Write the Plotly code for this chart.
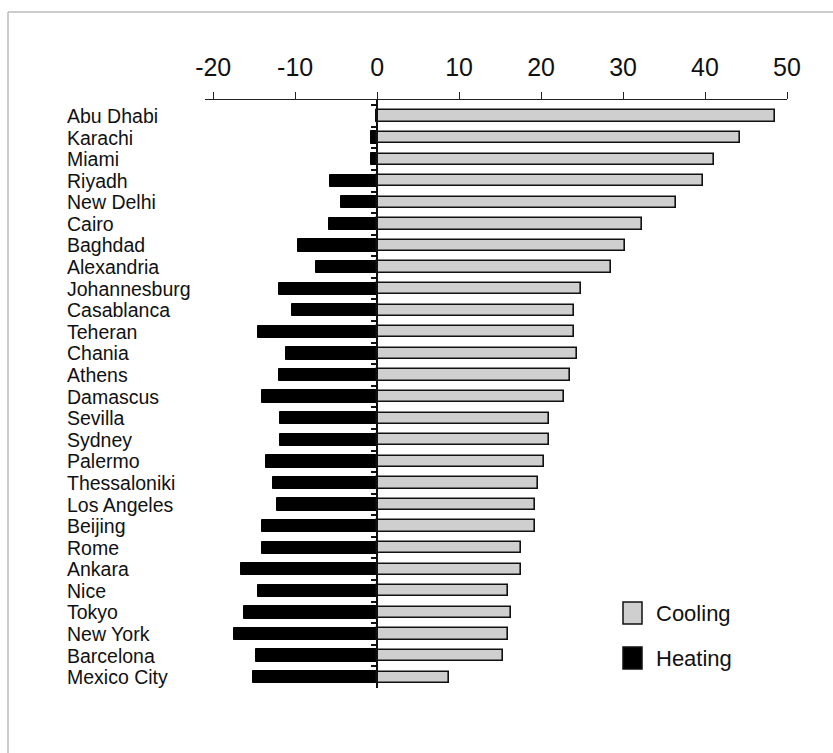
import plotly.graph_objects as go

# Cities, top to bottom
cities = [
    "Abu Dhabi", "Karachi", "Miami", "Riyadh", "New Delhi", "Cairo", "Baghdad",
    "Alexandria", "Johannesburg", "Casablanca", "Teheran", "Chania", "Athens",
    "Damascus", "Sevilla", "Sydney", "Palermo", "Thessaloniki", "Los Angeles",
    "Beijing", "Rome", "Ankara", "Nice", "Tokyo", "New York", "Barcelona",
    "Mexico City",
]

# Cooling (positive) and heating (negative) values
cooling = [
    48.5, 44.3, 41.1, 39.7, 36.4, 32.3, 30.2,
    28.5, 24.9, 24.0, 24.0, 24.4, 23.5,
    22.8, 21.0, 21.0, 20.3, 19.6, 19.2,
    19.2, 17.6, 17.6, 16.0, 16.3, 16.0, 15.4,
    8.8,
]
heating = [
    -0.2, -0.7, -0.7, -5.7, -4.4, -5.9, -9.7,
    -7.5, -12.0, -10.4, -14.5, -11.1, -12.0,
    -14.1, -11.8, -11.8, -13.6, -12.7, -12.2,
    -14.1, -14.1, -16.6, -14.5, -16.3, -17.5, -14.8,
    -15.2,
]

x_ticks = [-20, -10, 0, 10, 20, 30, 40, 50]
x_range = [-21, 50]

W, H = 833, 753
L, R, T, B = 205, 46, 100, 65
PW, PH = W - L - R, H - T - B


def px_x(px):
    return (px - L) / PW


def px_y(py):
    return (H - B - py) / PH


FONT = "Liberation Sans, Arial, sans-serif"
COOL_FILL = "#cfcfcf"

fig = go.Figure()
fig.add_trace(go.Bar(
    y=cities, x=heating, orientation="h", name="Heating",
    marker=dict(color="#000000", line=dict(color="#000000", width=1)),
    width=0.57,
))
fig.add_trace(go.Bar(
    y=cities, x=cooling, orientation="h", name="Cooling",
    marker=dict(color=COOL_FILL, line=dict(color="#111111", width=1.6)),
    width=0.52,
))

# City names, left-aligned
for c in cities:
    fig.add_annotation(
        x=px_x(65), xref="paper", y=c, yref="y", text=c, showarrow=False,
        xanchor="left", yanchor="middle",
        font=dict(family=FONT, size=19.5, color="#111111"),
    )

# Legend boxes and labels
legend_items = [("Cooling", COOL_FILL, 602, 624), ("Heating", "#000000", 647, 669)]
for label, fill, y0, y1 in legend_items:
    fig.add_shape(
        type="rect", xref="paper", yref="paper",
        x0=px_x(623), x1=px_x(642), y0=px_y(y1), y1=px_y(y0),
        fillcolor=fill, line=dict(color="#111111", width=1.5),
    )
    fig.add_annotation(
        x=px_x(654), xref="paper", y=px_y((y0 + y1) / 2), yref="paper",
        text=label, showarrow=False, xanchor="left", yanchor="middle",
        font=dict(family=FONT, size=22, color="#111111"),
    )

# Thin frame along the top and left edges
frame = dict(color="#bdbdbd", width=1.5)
fig.add_shape(type="line", xref="paper", yref="paper",
              x0=px_x(8), x1=px_x(W + 5), y0=px_y(12), y1=px_y(12), line=frame)
fig.add_shape(type="line", xref="paper", yref="paper",
              x0=px_x(8), x1=px_x(8), y0=px_y(12), y1=px_y(H + 5), line=frame)

fig.update_layout(
    width=W, height=H,
    margin=dict(l=L, r=R, t=T, b=B, pad=0),
    paper_bgcolor="white", plot_bgcolor="white",
    barmode="overlay", bargap=0,
    showlegend=False,
    font=dict(family=FONT, color="#111111"),
    xaxis=dict(
        side="top", range=x_range, tickvals=x_ticks,
        ticktext=[str(v) for v in x_ticks],
        showgrid=False, zeroline=False,
        showline=True, linecolor="#222222", linewidth=1.2,
        ticks="outside", ticklen=7, tickwidth=1.2, tickcolor="#222222",
        tickfont=dict(family=FONT, size=25, color="#111111"),
        ticklabelstandoff=6,
    ),
    yaxis=dict(
        type="category", categoryorder="array", categoryarray=cities,
        range=[26.5, -0.74], autorange=False,
        showticklabels=False, showgrid=False, zeroline=False,
        showline=True, linecolor="#111111", linewidth=1.5,
        ticks="outside", ticklen=5, tickwidth=1.5, tickcolor="#111111",
        tickson="boundaries",
        anchor="free", position=(0 - x_range[0]) / (x_range[1] - x_range[0]),
    ),
)

fig.write_html("out.html")
